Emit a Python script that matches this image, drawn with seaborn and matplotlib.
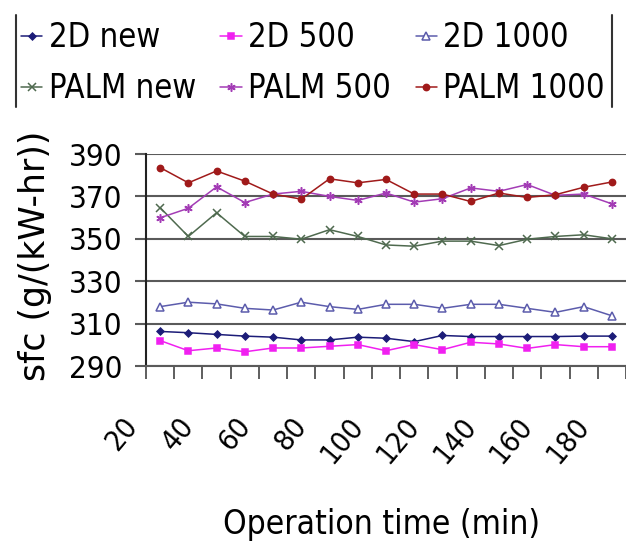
import numpy as np
import pandas as pd
import matplotlib
matplotlib.use("Agg")
import matplotlib.pyplot as plt
import seaborn as sns
from matplotlib.lines import Line2D
from matplotlib.transforms import ScaledTranslation

# ---------------- data ----------------
times = [20, 30, 40, 50, 60, 70, 80, 90, 100, 110, 120, 130, 140, 150, 160, 170, 180]
tick_labels = [20, 40, 60, 80, 100, 120, 140, 160, 180]
yticks = [290, 310, 330, 350, 370, 390]

d2_new = [306.3, 305.7, 304.9, 304.1, 303.6, 302.3, 302.3, 303.6, 303.1, 301.5,
          304.4, 303.9, 303.9, 303.9, 303.9, 304.1, 304.1]
d2_500 = [302.0, 297.2, 298.5, 296.7, 298.5, 298.5, 299.3, 300.1, 297.2, 300.1,
          297.7, 301.2, 300.4, 298.3, 300.1, 299.1, 299.1]
d2_1000 = [318.0, 320.1, 319.3, 317.2, 316.4, 320.1, 318.0, 316.7, 319.1, 319.1,
           317.2, 319.1, 319.1, 317.2, 315.3, 318.0, 313.7]
palm_new = [364.7, 351.1, 362.3, 351.1, 351.1, 349.8, 354.3, 351.1, 347.1, 346.5,
            348.9, 348.9, 346.8, 349.8, 351.1, 351.9, 350.0]
palm_500 = [359.9, 364.4, 374.5, 367.1, 371.1, 372.4, 370.0, 368.1, 371.6, 367.3,
            368.9, 374.0, 372.4, 375.6, 370.5, 371.1, 366.5]
palm_1000 = [383.6, 376.4, 382.0, 377.2, 371.1, 368.7, 378.3, 376.4, 378.0, 371.1,
             371.1, 367.6, 371.6, 369.5, 370.8, 374.3, 376.8]

series_names = ["2D new", "2D 500", "2D 1000", "PALM new", "PALM 500", "PALM 1000"]
series_values = [d2_new, d2_500, d2_1000, palm_new, palm_500, palm_1000]

# ---------------- style ----------------
sns.set_style("white")
plt.rcParams["font.family"] = ["DejaVu Sans"]
plt.rcParams["font.stretch"] = "condensed"
plt.rcParams["text.color"] = "black"
plt.rcParams["axes.labelcolor"] = "black"
plt.rcParams["xtick.color"] = "black"
plt.rcParams["ytick.color"] = "black"

styles = {
    "2D new":    dict(color="#1c1c78", marker="D", ms=3.5, mfc="#1c1c78"),
    "2D 500":    dict(color="#f020f0", marker="s", ms=4.5, mfc="#f020f0"),
    "2D 1000":   dict(color="#5c5cac", marker="^", ms=5.5, mfc="white"),
    "PALM new":  dict(color="#4f6a4f", marker="x", ms=5.5, mfc="none"),
    "PALM 500":  dict(color="#a33cb5", marker=(6, 2, 0), ms=6, mfc="none"),
    "PALM 1000": dict(color="#a01a1a", marker="o", ms=4.5, mfc="#a01a1a"),
}

fig = plt.figure(figsize=(6.26, 5.52), dpi=100)
W, H = 626, 552
ax = fig.add_axes([146 / W, 1 - 366 / H, 1 - 146 / W, (366 - 154) / H])

for name, vals in zip(series_names, series_values):
    st = styles[name]
    df = pd.DataFrame({"time": times, "sfc": vals})
    sns.lineplot(data=df, x="time", y="sfc", ax=ax, color=st["color"],
                 marker=st["marker"], markersize=st["ms"],
                 markerfacecolor=st["mfc"], markeredgecolor=st["color"],
                 markeredgewidth=1.1, linewidth=1.1, label=name)

if ax.get_legend() is not None:
    ax.get_legend().remove()

ax.set_xlim(15, 185)
ax.set_ylim(290, 390)

# y axis
ax.set_yticks(yticks)
ax.set_yticklabels([str(v) for v in yticks])
ax.yaxis.grid(True, color="#5a5a5a", linewidth=1.5)
ax.xaxis.grid(False)
ax.tick_params(axis="y", which="major", direction="out", length=8, width=1.5,
               color="#5a5a5a", labelcolor="black", pad=9, labelsize=22.5,
               left=True)

# x axis: category boundaries as minor ticks, labels at every other category
ax.set_xticks(tick_labels)
ax.set_xticklabels([str(v) for v in tick_labels], rotation=50, ha="right",
                   va="center", rotation_mode="anchor")
ax.set_xticks(np.arange(15, 186, 10), minor=True)
ax.tick_params(axis="x", which="major", length=0, pad=40, labelsize=21,
               labelcolor="black")
ax.tick_params(axis="x", which="minor", direction="out", length=9, width=1.1,
               color="#333333", bottom=True)
offset = ScaledTranslation(-0.28, 0, fig.dpi_scale_trans)
for lab in ax.get_xticklabels():
    lab.set_transform(lab.get_transform() + offset)

for s in ["top", "right"]:
    ax.spines[s].set_visible(False)
ax.spines["left"].set_color("#222222")
ax.spines["left"].set_linewidth(1.5)
ax.spines["bottom"].set_color("#5a5a5a")
ax.spines["bottom"].set_linewidth(1.5)

ax.set_xlabel("Operation time (min)", fontsize=24, color="black")
ax.xaxis.set_label_coords(0.49, -0.672)
ax.set_ylabel("sfc (g/(kW-hr))", fontsize=25, fontstretch="normal",
              color="black")
ax.yaxis.set_label_coords(-0.195, 0.52)

# legend: row-wise order in 3 columns
handles, labels = ax.get_legend_handles_labels()
hmap = dict(zip(labels, handles))
order = ["2D new", "PALM new", "2D 500", "PALM 500", "2D 1000", "PALM 1000"]
leg = fig.legend([hmap[k] for k in order], order, ncol=3, loc="upper left",
                 bbox_to_anchor=(21 / W, 1 - 21 / H), frameon=False,
                 fontsize=23.5, handlelength=0.65, handletextpad=0.2,
                 columnspacing=0.75, labelspacing=0.56, borderpad=0,
                 borderaxespad=0)
for t in leg.get_texts():
    t.set_color("black")

fig.add_artist(Line2D([16 / W, 16 / W], [1 - 15 / H, 1 - 107 / H],
                      transform=fig.transFigure, color="#333333", lw=1.5))
fig.add_artist(Line2D([612 / W, 612 / W], [1 - 15 / H, 1 - 107 / H],
                      transform=fig.transFigure, color="#333333", lw=1.5))

fig.savefig("out.png", dpi=100)
